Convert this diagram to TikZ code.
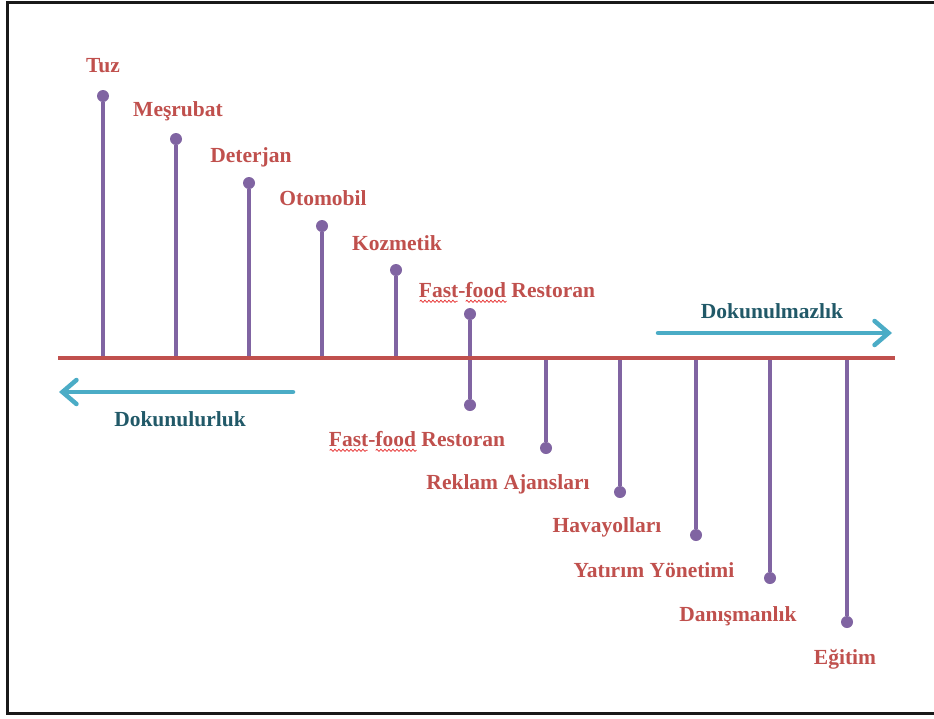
\documentclass[tikz,border=0pt]{standalone}
\usepackage{fontspec}
\setmainfont{Liberation Serif}
\usetikzlibrary{arrows.meta,decorations.pathmorphing}

\definecolor{axisred}{RGB}{192,80,77}
\definecolor{stempurple}{RGB}{128,100,162}
\definecolor{arrowteal}{RGB}{75,172,198}
\definecolor{textteal}{RGB}{33,89,104}
\definecolor{wavered}{RGB}{230,40,40}

\tikzset{
  lbl/.style={font=\fontsize{21.5}{26}\selectfont\bfseries, text=axisred, anchor=mid, inner sep=0pt},
  dirlbl/.style={lbl, text=textteal},
  stem/.style={draw=stempurple, line width=4pt},
  dot/.style={circle, fill=stempurple, minimum size=12pt, inner sep=0pt},
  axis/.style={draw=axisred, line width=4pt},
  dirarrow/.style={draw=arrowteal, line width=4.5pt, line cap=round,
    -{Straight Barb[length=14pt,width=24pt,line cap=round]}},
  spell/.style={draw=wavered, line width=0.7pt,
    decorate, decoration={snake, amplitude=1.1pt, segment length=4pt}},
}

\begin{document}
\begin{tikzpicture}[x=1pt, y=-1pt]
  \useasboundingbox (0,0) rectangle (934,718);
  \clip (0,0) rectangle (934,718);
  \fill[white] (0,0) rectangle (934,718);

  % outer frame
  \draw[line width=3pt, black!90] (7,2) rectangle (950,713);

  % ends of the axis
  \coordinate (axL) at (58,358);
  \coordinate (axR) at (895,358);

  % stems above the axis
  \foreach \i/\x/\y in {1/103/96, 2/176/139, 3/249/183, 4/322/226, 5/396/270} {
    \coordinate (ub\i) at (\x,358);
    \node[dot] (ud\i) at (\x,\y) {};
    \draw[stem] (ub\i) -- (ud\i);
  }

  % the stem that crosses the axis
  \node[dot] (cu) at (470,314) {};
  \node[dot] (cd) at (470,405) {};
  \draw[stem] (cu) -- (cd);

  % stems below the axis
  \foreach \i/\x/\y in {1/546/448, 2/620/492, 3/696/535, 4/770/578, 5/847/622} {
    \coordinate (lb\i) at (\x,358);
    \node[dot] (ld\i) at (\x,\y) {};
    \draw[stem] (lb\i) -- (ld\i);
  }

  % axis
  \draw[axis] (axL) -- (axR);

  % direction arrows
  \coordinate (raS) at (658,333);
  \coordinate (raE) at (892,333);
  \draw[dirarrow] (raS) -- (raE);
  \coordinate (laS) at (293,392);
  \coordinate (laE) at (59,392);
  \draw[dirarrow] (laS) -- (laE);

  \node[dirlbl] (tR) at (772,316) {Dokunulmazlık};
  \node[dirlbl] (tL) at (180,424) {Dokunulurluk};

  % labels above the axis
  \node[lbl] (l1) at (103,70) {Tuz};
  \node[lbl] (l2) at (178,114) {Meşrubat};
  \node[lbl] (l3) at (251,160) {Deterjan};
  \node[lbl] (l4) at (323,203) {Otomobil};
  \node[lbl] (l5) at (397,248) {Kozmetik};
  \node[lbl] (l6) at (507,295) {Fast-food Restoran};

  % labels below the axis
  \node[lbl] (m1) at (417,444) {Fast-food Restoran};
  \node[lbl] (m2) at (508,487) {Reklam Ajansları};
  \node[lbl] (m3) at (607,530) {Havayolları};
  \node[lbl] (m4) at (654,575) {Yatırım Yönetimi};
  \node[lbl] (m5) at (738,619) {Danışmanlık};
  \node[lbl] (m6) at (845,662) {Eğitim};

  % spelling marks under "Fast-food"
  \foreach \n in {l6, m1} {
    \draw[spell] ([shift={(1,4)}]\n.base west) -- ++(38,0);
    \draw[spell] ([shift={(47,4)}]\n.base west) -- ++(41,0);
  }
\end{tikzpicture}
\end{document}
